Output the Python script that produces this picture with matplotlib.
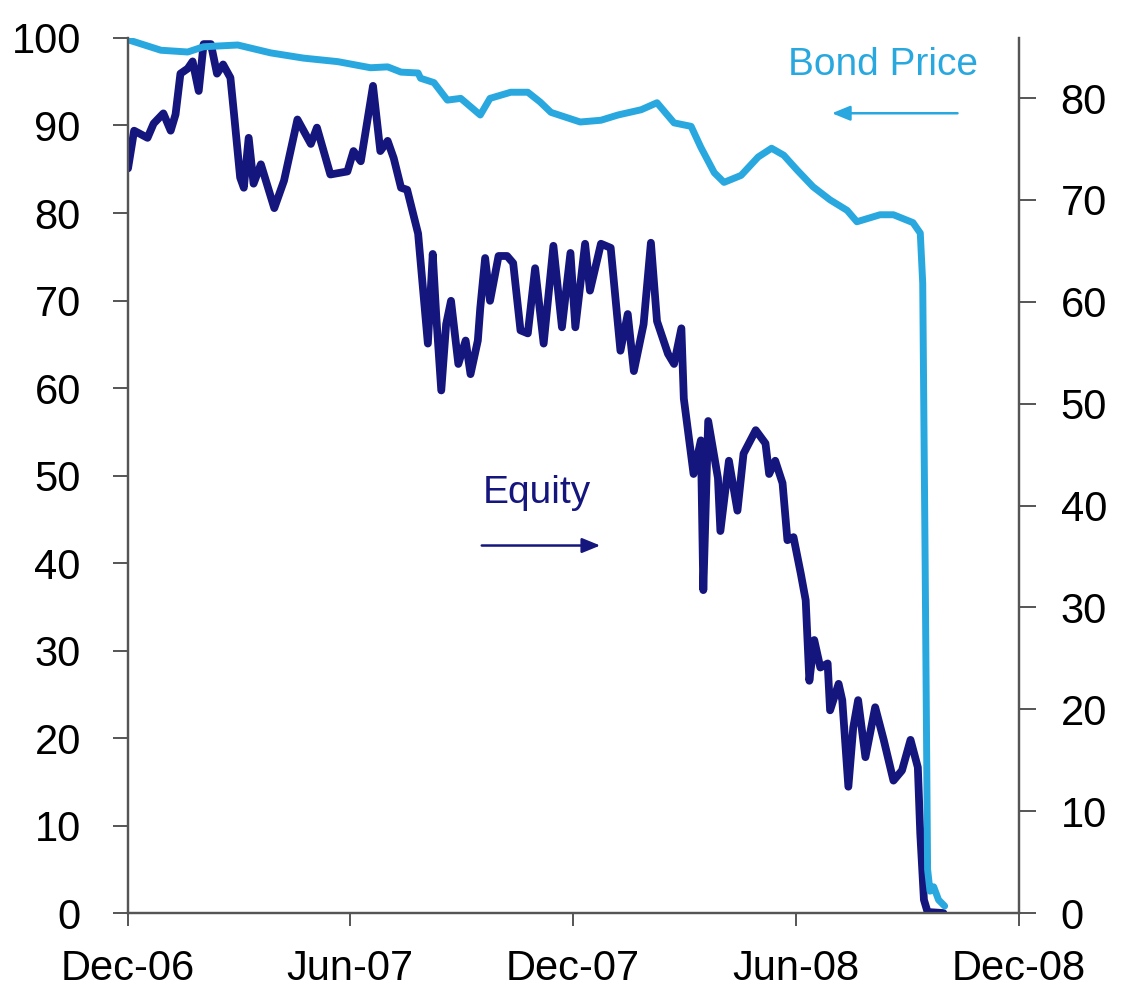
import matplotlib
matplotlib.use("Agg")
import matplotlib.pyplot as plt
import numpy as np
import pandas as pd

plt.rcParams['font.family'] = ['Liberation Sans', 'DejaVu Sans']

# ---- Data ----
bond_dates = ["2006-12-01", "2006-12-28", "2007-01-19", "2007-02-01", "2007-03-01",
              "2007-03-28", "2007-04-24", "2007-05-22", "2007-06-18", "2007-07-02",
              "2007-07-13", "2007-07-27", "2007-07-29", "2007-08-09", "2007-08-20",
              "2007-08-31", "2007-09-16", "2007-09-24", "2007-10-11", "2007-10-25",
              "2007-11-04", "2007-11-13", "2007-12-07", "2007-12-24", "2008-01-07",
              "2008-01-26", "2008-02-08", "2008-02-22", "2008-03-07", "2008-03-15",
              "2008-03-26", "2008-04-03", "2008-04-17", "2008-05-01", "2008-05-12",
              "2008-05-22", "2008-06-02", "2008-06-15", "2008-06-29", "2008-07-13",
              "2008-07-21", "2008-08-09", "2008-08-20", "2008-09-05", "2008-09-11",
              "2008-09-13", "2008-09-15", "2008-09-17", "2008-09-19", "2008-09-22",
              "2008-09-26", "2008-10-01"]
bond_price = [99.8, 98.6, 98.4, 99.0, 99.2,
              98.3, 97.7, 97.3, 96.6, 96.7,
              96.1, 96.0, 95.4, 94.9, 92.9,
              93.1, 91.2, 93.1, 93.8, 93.8,
              92.7, 91.5, 90.4, 90.6, 91.2,
              91.8, 92.6, 90.3, 89.9, 87.5,
              84.6, 83.5, 84.3, 86.4, 87.4,
              86.6, 84.9, 83.0, 81.5, 80.3,
              79.0, 79.8, 79.8, 78.9, 77.7,
              72.0, 40.0, 5.0, 2.5, 3.0,
              1.5, 0.8]

equity_dates = ["2006-12-01", "2006-12-06", "2006-12-17", "2006-12-22", "2006-12-30",
                "2007-01-05", "2007-01-09", "2007-01-13", "2007-01-19", "2007-01-23",
                "2007-01-28", "2007-02-01", "2007-02-07", "2007-02-12", "2007-02-17",
                "2007-02-23", "2007-02-26", "2007-03-03", "2007-03-06", "2007-03-10",
                "2007-03-14", "2007-03-20", "2007-03-31", "2007-04-08", "2007-04-19",
                "2007-04-30", "2007-05-05", "2007-05-16", "2007-05-30", "2007-06-04",
                "2007-06-10", "2007-06-20", "2007-06-26", "2007-07-02", "2007-07-07",
                "2007-07-13", "2007-07-18", "2007-07-27", "2007-07-29", "2007-08-04",
                "2007-08-08", "2007-08-11", "2007-08-15", "2007-08-19", "2007-08-23",
                "2007-08-29", "2007-09-04", "2007-09-08", "2007-09-14", "2007-09-16",
                "2007-09-20", "2007-09-24", "2007-10-01", "2007-10-08", "2007-10-13",
                "2007-10-19", "2007-10-25", "2007-10-31", "2007-11-07", "2007-11-15",
                "2007-11-22", "2007-11-29", "2007-12-03", "2007-12-11", "2007-12-15",
                "2007-12-24", "2008-01-01", "2008-01-09", "2008-01-15", "2008-01-20",
                "2008-01-28", "2008-02-03", "2008-02-08", "2008-02-17", "2008-02-22",
                "2008-02-28", "2008-03-01", "2008-03-09", "2008-03-15", "2008-03-17",
                "2008-03-21", "2008-03-29", "2008-03-31", "2008-04-07", "2008-04-14",
                "2008-04-19", "2008-04-29", "2008-05-07", "2008-05-10", "2008-05-15",
                "2008-05-21", "2008-05-25", "2008-05-30", "2008-06-05", "2008-06-09",
                "2008-06-12", "2008-06-16", "2008-06-21", "2008-06-27", "2008-06-29",
                "2008-07-06", "2008-07-09", "2008-07-14", "2008-07-18", "2008-07-22",
                "2008-07-28", "2008-08-05", "2008-08-12", "2008-08-20", "2008-08-27",
                "2008-09-03", "2008-09-09", "2008-09-11", "2008-09-14", "2008-09-17",
                "2008-09-30"]
equity = [73.1, 76.8, 76.1, 77.5, 78.5,
          76.8, 78.4, 82.4, 82.9, 83.6,
          80.7, 85.3, 85.3, 82.4, 83.3,
          82.0, 78.4, 72.2, 71.2, 76.1,
          71.6, 73.5, 69.2, 71.9, 77.9,
          75.5, 77.1, 72.5, 72.8, 74.8,
          73.8, 81.2, 74.8, 75.8, 74.1,
          71.2, 71.0, 66.7, 64.0, 55.9,
          64.7, 58.4, 51.3, 57.8, 60.1,
          53.9, 56.2, 52.9, 56.2, 59.4,
          64.3, 60.1, 64.5, 64.5, 63.8,
          57.2, 56.9, 63.3, 55.9, 65.5,
          57.5, 64.8, 57.5, 65.7, 61.1,
          65.7, 65.3, 55.2, 58.8, 53.2,
          57.8, 65.8, 58.1, 54.9, 53.9,
          57.4, 50.5, 43.1, 46.4, 31.7,
          48.3, 42.7, 37.5, 44.4, 39.5,
          45.1, 47.4, 46.1, 43.1, 44.4,
          42.2, 36.6, 36.9, 33.3, 30.7,
          22.8, 26.8, 24.1, 24.5, 19.9,
          22.5, 20.9, 12.4, 18.2, 20.9,
          15.3, 20.2, 17.0, 13.0, 14.0,
          17.0, 14.3, 7.8, 1.3, 0.1,
          0.0]

left_ticks = list(range(0, 101, 10))
right_ticks = list(range(0, 81, 10))
x_tick_dates = ["2006-12-01", "2007-06-01", "2007-12-01", "2008-06-01", "2008-12-01"]
x_tick_labels = ["Dec-06", "Jun-07", "Dec-07", "Jun-08", "Dec-08"]

# ---- Styling ----
BOND_C = "#29A8DF"
EQ_C = "#15157E"
SPINE_C = "#555555"
FS = 30

fig = plt.figure(figsize=(11.22, 9.92), dpi=100)
ax = fig.add_axes([0.1141, 0.0796, 0.9082 - 0.1141, 0.9617 - 0.0796])
ax2 = ax.twinx()

bd = pd.to_datetime(bond_dates)
ed = pd.to_datetime(equity_dates)

ax.plot(bd, bond_price, color=BOND_C, lw=5.0, solid_joinstyle='round',
        solid_capstyle='round', zorder=2)
ax2.plot(ed, equity, color=EQ_C, lw=5.6, solid_joinstyle='round',
         solid_capstyle='round', zorder=3)

ax.set_zorder(ax2.get_zorder() + 1)
ax.patch.set_visible(False)

ax.set_ylim(0, 100)
ax2.set_ylim(0, 85.9)
ax.set_xlim(pd.Timestamp("2006-12-01"), pd.Timestamp("2008-12-01"))

ax.set_yticks(left_ticks)
ax2.set_yticks(right_ticks)
ax.set_xticks(pd.to_datetime(x_tick_dates))
ax.set_xticklabels(x_tick_labels)

for a in (ax, ax2):
    a.spines['top'].set_visible(False)
    for s in ('left', 'right', 'bottom'):
        a.spines[s].set_color(SPINE_C)
        a.spines[s].set_linewidth(1.6)

ax.tick_params(axis='y', direction='out', length=11, width=1.4, color=SPINE_C,
               labelsize=FS, pad=23)
ax2.tick_params(axis='y', direction='out', length=12, width=1.4, color=SPINE_C,
                labelsize=FS, pad=18)
ax.tick_params(axis='x', direction='out', length=9, width=1.4, color=SPINE_C,
               labelsize=FS, pad=17)

# Annotations
ax.text(0.847, 0.969, "Bond Price", transform=ax.transAxes, color=BOND_C,
        fontsize=28, ha='center', va='center')
ax.annotate("", xy=(0.79, 0.914), xytext=(0.931, 0.914), xycoords='axes fraction',
            arrowprops=dict(arrowstyle='-|>,head_length=1.1,head_width=0.45',
                            color=BOND_C, lw=1.8, shrinkA=0, shrinkB=0))
ax.text(0.459, 0.48, "Equity", transform=ax.transAxes, color=EQ_C,
        fontsize=28, ha='center', va='center')
ax.annotate("", xy=(0.53, 0.420), xytext=(0.397, 0.420), xycoords='axes fraction',
            arrowprops=dict(arrowstyle='-|>,head_length=1.1,head_width=0.45',
                            color=EQ_C, lw=1.8, shrinkA=0, shrinkB=0))

fig.savefig("out.png", dpi=100)
